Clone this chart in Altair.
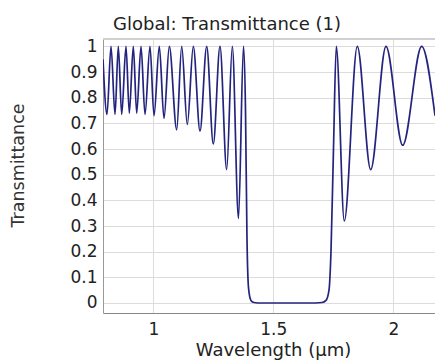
import altair as alt
import pandas as pd

# Wavelength (µm) and transmittance values
wavelength = [
    0.7904, 0.807, 0.8238, 0.8404, 0.8542, 0.8683, 0.8862, 0.9000, 0.9167, 0.9308,
    0.9488, 0.9654, 0.9862, 1.0029, 1.0250, 1.0446, 1.0667, 1.0975, 1.1183, 1.1417,
    1.1667, 1.1946, 1.2225, 1.2500, 1.2779, 1.3058, 1.3292, 1.3550, 1.3758, 1.3842,
    1.3904, 1.3967, 1.4070, 1.4196, 1.4500, 1.5000, 1.5500, 1.6000, 1.6500, 1.7030,
    1.7196, 1.7321, 1.7404, 1.7508, 1.7625, 1.7958, 1.8500, 1.9058, 1.9696, 2.0392,
    2.1183, 2.1738,
]
transmittance = [
    0.95, 0.735, 1.0, 0.735, 1.0, 0.735, 1.0, 0.74, 1.0, 0.74,
    1.0, 0.735, 1.0, 0.73, 1.0, 0.72, 1.0, 0.675, 1.0, 0.695,
    1.0, 0.67, 1.0, 0.62, 1.0, 0.52, 1.0, 0.33, 1.0, 0.75,
    0.25, 0.06, 0.01, 0.002, 0.0, 0.0, 0.0, 0.0, 0.0, 0.002,
    0.01, 0.05, 0.2, 0.6, 1.0, 0.32, 1.0, 0.52, 1.0, 0.615,
    1.0, 0.73,
]
x_ticks = [1, 1.5, 2]
y_ticks = [0, 0.1, 0.2, 0.3, 0.4, 0.5, 0.6, 0.7, 0.8, 0.9, 1]

df = pd.DataFrame({"wl": wavelength, "T": transmittance})

FONT = "DejaVu Sans"
W, H = 332, 274

line = alt.Chart(df).mark_line(
    clip=True, color="#24247e", strokeWidth=1.7, interpolate="monotone"
).encode(
    x=alt.X(
        "wl:Q",
        scale=alt.Scale(domain=[0.7904, 2.1738], nice=False, zero=False),
        axis=alt.Axis(
            values=x_ticks, format="~g", title="Wavelength (µm)",
            ticks=False, labelPadding=8, labelFontSize=17, titleFontSize=18,
            titleFontWeight="normal", labelColor="#222", titleColor="#222",
            domainColor="#888", gridColor="#dcdcdc",
            titleX=170, titleY=37, titleBaseline="middle", titleAnchor="middle",
        ),
    ),
    y=alt.Y(
        "T:Q",
        scale=alt.Scale(domain=[-0.039, 1.029], nice=False, zero=False),
        axis=alt.Axis(
            values=y_ticks, format=".1~f", title="Transmittance",
            ticks=False, labelPadding=6, labelFontSize=17, titleFontSize=17.5,
            titleFontWeight="normal", labelColor="#222", titleColor="#333",
            domainColor="#999", gridColor="#dcdcdc",
            titleX=-85, titleY=126, titleBaseline="middle", titleAlign="center",
        ),
    ),
)

top_border = alt.Chart(df).mark_rule(color="#cfcfcf", strokeWidth=1).encode(
    x=alt.value(0), x2=alt.value(W), y=alt.value(0)
)

chart = alt.layer(top_border, line).properties(
    width=W, height=H,
    title=alt.TitleParams(
        "Global: Transmittance (1)", anchor="start", frame="group", dx=10, offset=3,
        fontSize=18, fontWeight="normal", color="#222", font=FONT,
    ),
    autosize=alt.AutoSizeParams(type="none"),
    padding={"left": 103, "top": 39, "right": 0, "bottom": 47},
).configure(font=FONT).configure_view(stroke=None).configure_axis(
    labelFont=FONT, titleFont=FONT
)

chart.save("out.html", embed_options={"renderer": "svg", "actions": False})
